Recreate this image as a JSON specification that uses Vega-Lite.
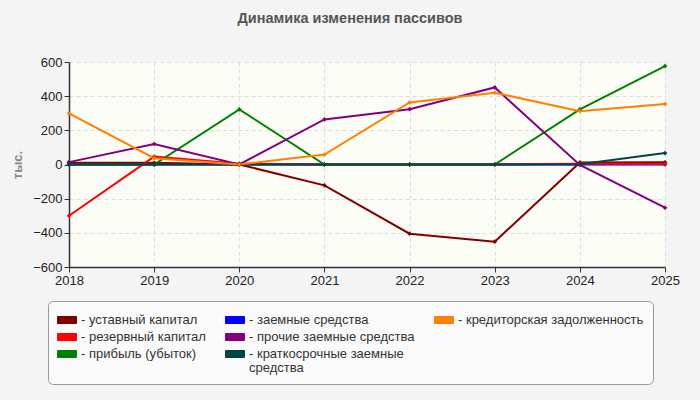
{
  "$schema": "https://vega.github.io/schema/vega-lite/v6.json",
  "width": 596,
  "height": 205,
  "autosize": {"type": "none"},
  "padding": {"left": 69, "top": 62, "right": 35, "bottom": 133},
  "background": "#f4f4f4",
  "title": {
    "text": "Динамика изменения пассивов",
    "font": "Liberation Sans",
    "fontSize": 14.5,
    "fontWeight": "bold",
    "color": "#555555",
    "anchor": "middle",
    "offset": 30,
    "dx": -17
  },
  "config": {
    "font": "Liberation Sans",
    "view": {"fill": "#fcfcf6", "stroke": null}
  },
  "data": {
    "values": [
      {"year": 2018, "series": "заемные средства", "value": 0},
      {"year": 2019, "series": "заемные средства", "value": 0},
      {"year": 2020, "series": "заемные средства", "value": 0},
      {"year": 2021, "series": "заемные средства", "value": 0},
      {"year": 2022, "series": "заемные средства", "value": 0},
      {"year": 2023, "series": "заемные средства", "value": 0},
      {"year": 2024, "series": "заемные средства", "value": 0},
      {"year": 2025, "series": "заемные средства", "value": 0},
      {"year": 2018, "series": "уставный капитал", "value": 10},
      {"year": 2019, "series": "уставный капитал", "value": 10},
      {"year": 2020, "series": "уставный капитал", "value": 0},
      {"year": 2021, "series": "уставный капитал", "value": -122},
      {"year": 2022, "series": "уставный капитал", "value": -405},
      {"year": 2023, "series": "уставный капитал", "value": -452},
      {"year": 2024, "series": "уставный капитал", "value": 12},
      {"year": 2025, "series": "уставный капитал", "value": 13},
      {"year": 2018, "series": "резервный капитал", "value": -300},
      {"year": 2019, "series": "резервный капитал", "value": 46},
      {"year": 2020, "series": "резервный капитал", "value": 5},
      {"year": 2021, "series": "резервный капитал", "value": 0},
      {"year": 2022, "series": "резервный капитал", "value": 0},
      {"year": 2023, "series": "резервный капитал", "value": 0},
      {"year": 2024, "series": "резервный капитал", "value": 5},
      {"year": 2025, "series": "резервный капитал", "value": 3},
      {"year": 2018, "series": "прибыль (убыток)", "value": 0},
      {"year": 2019, "series": "прибыль (убыток)", "value": 0},
      {"year": 2020, "series": "прибыль (убыток)", "value": 323},
      {"year": 2021, "series": "прибыль (убыток)", "value": 0},
      {"year": 2022, "series": "прибыль (убыток)", "value": 0},
      {"year": 2023, "series": "прибыль (убыток)", "value": 0},
      {"year": 2024, "series": "прибыль (убыток)", "value": 323},
      {"year": 2025, "series": "прибыль (убыток)", "value": 576},
      {"year": 2018, "series": "прочие заемные средства", "value": 14},
      {"year": 2019, "series": "прочие заемные средства", "value": 120},
      {"year": 2020, "series": "прочие заемные средства", "value": 0},
      {"year": 2021, "series": "прочие заемные средства", "value": 264},
      {"year": 2022, "series": "прочие заемные средства", "value": 324},
      {"year": 2023, "series": "прочие заемные средства", "value": 451},
      {"year": 2024, "series": "прочие заемные средства", "value": -3},
      {"year": 2025, "series": "прочие заемные средства", "value": -253},
      {"year": 2018, "series": "краткосрочные заемные средства", "value": 0},
      {"year": 2019, "series": "краткосрочные заемные средства", "value": 0},
      {"year": 2020, "series": "краткосрочные заемные средства", "value": 0},
      {"year": 2021, "series": "краткосрочные заемные средства", "value": 0},
      {"year": 2022, "series": "краткосрочные заемные средства", "value": 0},
      {"year": 2023, "series": "краткосрочные заемные средства", "value": 0},
      {"year": 2024, "series": "краткосрочные заемные средства", "value": 2},
      {"year": 2025, "series": "краткосрочные заемные средства", "value": 67},
      {"year": 2018, "series": "кредиторская задолженность", "value": 299},
      {"year": 2019, "series": "кредиторская задолженность", "value": 37},
      {"year": 2020, "series": "кредиторская задолженность", "value": 0},
      {"year": 2021, "series": "кредиторская задолженность", "value": 58},
      {"year": 2022, "series": "кредиторская задолженность", "value": 363},
      {"year": 2023, "series": "кредиторская задолженность", "value": 420},
      {"year": 2024, "series": "кредиторская задолженность", "value": 312},
      {"year": 2025, "series": "кредиторская задолженность", "value": 354}
    ]
  },
  "encoding": {
    "x": {
      "field": "year",
      "type": "quantitative",
      "scale": {"domain": [2018, 2025], "nice": false, "zero": false},
      "axis": {
        "title": null,
        "values": [2018, 2019, 2020, 2021, 2022, 2023, 2024, 2025],
        "format": "d",
        "labelFontSize": 13,
        "labelColor": "#222222",
        "labelFlush": false,
        "labelPadding": 2,
        "domainColor": "#333333",
        "domainWidth": 1.5,
        "tickColor": "#333333",
        "tickSize": 5,
        "gridColor": "#dddddd",
        "gridDash": [4, 3]
      }
    },
    "y": {
      "field": "value",
      "type": "quantitative",
      "scale": {"domain": [-600, 600], "nice": false},
      "axis": {
        "title": "тыс.",
        "titleColor": "#888888",
        "titleFontSize": 13,
        "titleFontWeight": "bold",
        "titlePadding": 8,
        "values": [-600, -400, -200, 0, 200, 400, 600],
        "labelFontSize": 13,
        "labelColor": "#222222",
        "labelPadding": 2,
        "domainColor": "#333333",
        "domainWidth": 1.5,
        "tickColor": "#333333",
        "tickSize": 5,
        "gridColor": "#dddddd",
        "gridDash": [4, 3]
      }
    },
    "color": {
      "field": "series",
      "type": "nominal",
      "scale": {
        "domain": ["уставный капитал", "резервный капитал", "прибыль (убыток)", "заемные средства", "прочие заемные средства", "краткосрочные заемные средства", "кредиторская задолженность", " "],
        "range": ["#800000", "#ff0000", "#008000", "#0000ff", "#800080", "#004545", "#ff8000", "transparent"]
      },
      "legend": {
        "title": null,
        "orient": "none",
        "direction": "vertical",
        "legendX": -21,
        "legendY": 239,
        "columns": 3,
        "gridAlign": "each",
        "columnPadding": 17,
        "rowPadding": -1,
        "padding": 9,
        "fillColor": "#fafafa",
        "strokeColor": "#999999",
        "cornerRadius": 5,
        "symbolType": "M-1,-0.37h2v0.74h-2z",
        "symbolSize": 361,
        "symbolStrokeWidth": 1,
        "symbolOpacity": 1,
        "labelFontSize": 13,
        "labelColor": "#333333",
        "labelOffset": 4,
        "labelLimit": 300,
        "labelExpr": "datum.value == ' ' ? '' : (datum.value == 'краткосрочные заемные средства' ? ['- краткосрочные заемные', '\u00a0\u00a0средства'] : '- ' + datum.label)",
        "encode": {
          "symbols": {
            "update": {
              "size": {"value": 361},
              "shape": {"value": "M-1,-0.37h2v0.74h-2z"},
              "stroke": {"signal": "datum.value == ' ' ? 'transparent' : '#888888'"},
              "strokeWidth": {"value": 1}
            }
          },
          "labels": {
            "update": {
              "lineHeight": {"value": 14}
            }
          }
        }
      }
    }
  },
  "layer": [
    {"mark": {"type": "line", "strokeWidth": 2}},
    {"mark": {"type": "point", "shape": "diamond", "filled": true, "size": 22, "opacity": 1}}
  ]
}
